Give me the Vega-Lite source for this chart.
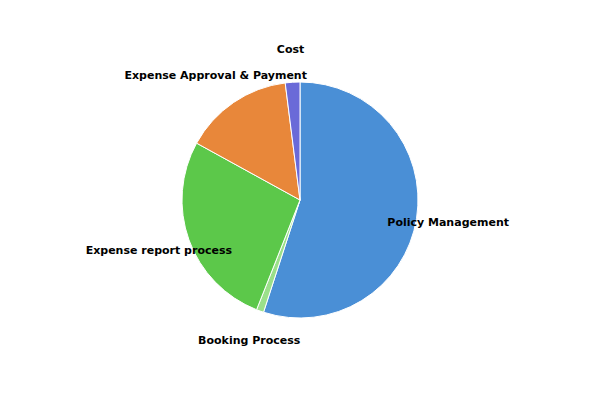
{
  "$schema": "https://vega.github.io/schema/vega-lite/v6.json",
  "width": 600, "height": 400,
  "autosize": {"type": "fit", "contains": "padding"},
  "background": "white",
  "data": {"values": [
    {"name": "Policy Management", "value": 55, "k": 1},
    {"name": "Booking Process", "value": 1, "k": 2},
    {"name": "Expense report process", "value": 27, "k": 3},
    {"name": "Expense Approval & Payment", "value": 15, "k": 4},
    {"name": "Cost", "value": 2, "k": 5}
  ]},
  "encoding": {
    "theta": {"field": "value", "type": "quantitative", "stack": true},
    "order": {"field": "k", "type": "quantitative"},
    "color": {"field": "name", "type": "nominal", "legend": null,
      "scale": {"domain": ["Policy Management", "Booking Process", "Expense report process", "Expense Approval & Payment", "Cost"],
                "range": ["#4a8fd6", "#9be08a", "#5cc84a", "#e8873a", "#6a6ad8"]}}
  },
  "layer": [
    {"mark": {"type": "arc", "outerRadius": 118, "stroke": "white", "strokeWidth": 1}},
    {"mark": {"type": "text", "radius": 150, "fontSize": 11, "fontWeight": "bold", "font": "DejaVu Sans", "color": "black"},
     "encoding": {"text": {"field": "name"}, "color": {"value": "black"}}}
  ]
}
